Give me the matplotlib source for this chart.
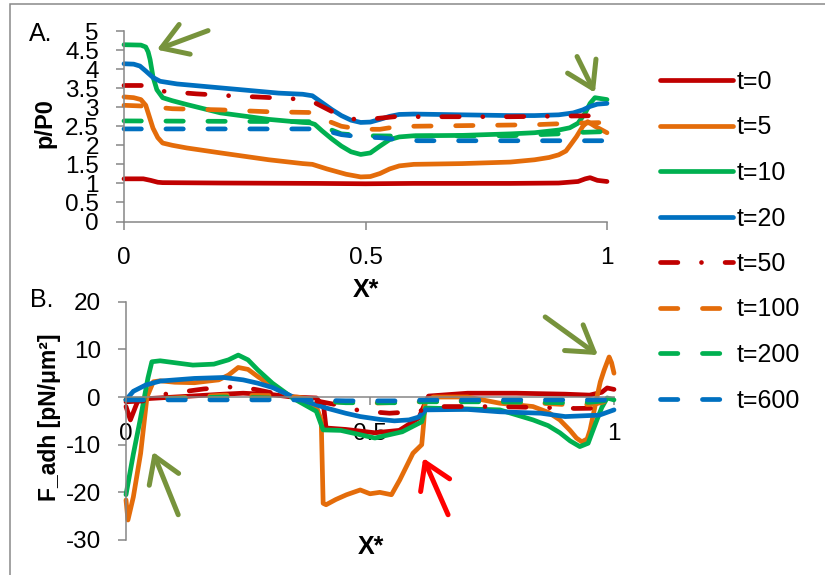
import matplotlib
matplotlib.use('Agg')
import matplotlib.pyplot as plt
from matplotlib.patches import Rectangle

plt.rcParams['font.family'] = ['Liberation Sans', 'DejaVu Sans']
plt.rcParams['lines.scale_dashes'] = False
plt.rcParams['axes.unicode_minus'] = False

# ---- data: panel A (p/P0 vs X*) ----
a_t0_x = [0, 0.04, 0.055, 0.07, 0.08, 0.2, 0.4, 0.5, 0.6, 0.8, 0.9, 0.94, 0.955, 0.965, 0.98, 1.0]
a_t0_y = [1.12, 1.12, 1.08, 1.03, 1.02, 1.01, 1.0, 0.99, 1.0, 1.0, 1.01, 1.05, 1.12, 1.15, 1.08, 1.05]

a_t5_x = [0, 0.02, 0.035, 0.045, 0.05, 0.06, 0.07, 0.08, 0.1, 0.13, 0.2, 0.3, 0.37, 0.39, 0.42, 0.46,
          0.49, 0.51, 0.53, 0.55, 0.57, 0.6, 0.7, 0.8, 0.85, 0.88, 0.9, 0.915, 0.925, 0.937, 0.95,
          0.96, 0.975, 1.0]
a_t5_y = [3.27, 3.25, 3.2, 3.05, 2.85, 2.45, 2.2, 2.06, 2.0, 1.93, 1.8, 1.62, 1.52, 1.5, 1.38, 1.24,
          1.17, 1.18, 1.26, 1.38, 1.46, 1.5, 1.52, 1.56, 1.62, 1.68, 1.75, 1.85, 2.02, 2.23, 2.5,
          2.62, 2.5, 2.33]

a_t10_x = [0, 0.035, 0.045, 0.05, 0.054, 0.06, 0.068, 0.08, 0.1, 0.13, 0.2, 0.3, 0.37, 0.385, 0.395,
           0.41, 0.43, 0.45, 0.47, 0.49, 0.51, 0.53, 0.55, 0.57, 0.6, 0.7, 0.8, 0.85, 0.9, 0.923,
           0.94, 0.955, 0.965, 0.975, 1.0]
a_t10_y = [4.64, 4.63, 4.58, 4.45, 4.25, 3.8, 3.46, 3.25, 3.17, 3.07, 2.85, 2.68, 2.6, 2.59, 2.55,
           2.38, 2.17, 1.98, 1.83, 1.76, 1.8, 1.98, 2.15, 2.22, 2.25, 2.26, 2.3, 2.33, 2.4, 2.46,
           2.58, 2.85, 3.1, 3.25, 3.2]

a_t20_x = [0, 0.02, 0.033, 0.045, 0.06, 0.075, 0.11, 0.18, 0.25, 0.32, 0.37, 0.39, 0.41, 0.43, 0.45,
           0.47, 0.49, 0.51, 0.53, 0.55, 0.57, 0.6, 0.7, 0.8, 0.85, 0.9, 0.93, 0.95, 0.965, 0.98, 1.0]
a_t20_y = [4.14, 4.13, 4.08, 3.95, 3.78, 3.68, 3.61, 3.53, 3.45, 3.37, 3.34, 3.3, 3.12, 2.94, 2.78,
           2.66, 2.6, 2.61, 2.68, 2.76, 2.81, 2.82, 2.8, 2.78, 2.78, 2.8, 2.85, 2.93, 3.02, 3.08, 3.1]

a_t50_x = [0, 0.04, 0.06, 0.08, 0.15, 0.22, 0.29, 0.35, 0.39, 0.43, 0.48, 0.52, 0.56, 0.6, 0.8, 1.0]
a_t50_y = [3.57, 3.57, 3.5, 3.42, 3.35, 3.3, 3.26, 3.22, 3.15, 2.89, 2.67, 2.7, 2.75, 2.75, 2.75, 2.78]

a_t100_x = [0, 0.04, 0.1, 0.2, 0.3, 0.39, 0.41, 0.45, 0.49, 0.53, 0.57, 0.6, 0.85, 0.93, 1.0]
a_t100_y = [3.05, 3.03, 2.96, 2.93, 2.88, 2.86, 2.7, 2.5, 2.42, 2.42, 2.5, 2.5, 2.54, 2.58, 2.6]

a_t200_x = [0, 0.39, 0.42, 0.45, 0.5, 0.6, 0.8, 0.9, 0.95, 1.0]
a_t200_y = [2.64, 2.62, 2.45, 2.3, 2.25, 2.24, 2.25, 2.3, 2.34, 2.36]

a_t600_x = [0, 0.39, 0.41, 0.45, 0.49, 0.53, 0.58, 0.61, 0.8, 1.0]
a_t600_y = [2.43, 2.43, 2.41, 2.28, 2.22, 2.2, 2.13, 2.12, 2.12, 2.12]

# ---- data: panel B (F_adh vs X*) ----
b_t0_x = [0, 0.009, 0.025, 0.05, 0.1, 0.2, 0.24, 0.3, 0.34, 0.39, 0.405, 0.41, 0.45, 0.51, 0.56,
          0.6, 0.612, 0.62, 0.7, 0.8, 0.9, 0.95, 0.975, 0.986, 1.0]
b_t0_y = [-2, -4.8, -0.6, -0.3, 0, 0.6, 0.8, 0.5, 0, -0.2, -2, -6.5, -6.8, -7.5, -7,
          -4.4, -1.5, 0.2, 0.8, 0.8, 0.6, 0.4, 1.0, 1.9, 1.6]

b_t5_x = [0, 0.004, 0.015, 0.03, 0.043, 0.056, 0.07, 0.1, 0.14, 0.19, 0.21, 0.23, 0.25, 0.27, 0.3,
          0.34, 0.37, 0.39, 0.4, 0.404, 0.41, 0.43, 0.452, 0.48, 0.5, 0.52, 0.544, 0.561, 0.575,
          0.588, 0.606, 0.61, 0.613, 0.63, 0.7, 0.766, 0.834, 0.865, 0.889, 0.91, 0.923, 0.934,
          0.945, 0.951, 0.958, 0.965, 0.972, 0.98, 0.99, 0.995, 1.0]
b_t5_y = [-21.6, -25.8, -21, -11.8, 0, 3.2, 3.4, 3.1, 3.0, 3.6, 4.6, 6.2, 5.8, 4.3, 2.2,
          0, -0.8, -2, -4.8, -22.3, -22.6, -21.5, -20.5, -19.5, -20.3, -20, -20.5, -17.4, -14.5,
          -11.8, -10, -5.5, -1, 0, 0, -1.3, -2, -3.2, -4.8, -7, -8.6, -9.4,
          -8.8, -6.9, -3.5, 0, 3.2, 5.7, 8.4, 7.2, 5.0]

b_t10_x = [0, 0.015, 0.029, 0.045, 0.053, 0.07, 0.137, 0.18, 0.21, 0.23, 0.25, 0.27, 0.3, 0.343,
           0.39, 0.404, 0.44, 0.51, 0.566, 0.606, 0.614, 0.65, 0.7, 0.766, 0.834, 0.865, 0.889,
           0.91, 0.93, 0.947, 0.955, 0.965, 0.975, 0.986, 1.0]
b_t10_y = [-20.5, -12, -4.8, 4, 7.4, 7.6, 6.7, 6.9, 7.8, 8.8, 7.8, 5.7, 2.9, -0.3,
           -3, -6.9, -7, -8.6, -7.3, -5.2, -2.3, -2.4, -2.5, -2.7, -4.8, -6, -7.5,
           -9.2, -10.4, -9.7, -7.5, -4.8, -2.2, -0.2, -0.6]

b_t20_x = [0, 0.015, 0.04, 0.07, 0.14, 0.2, 0.24, 0.27, 0.3, 0.343, 0.38, 0.41, 0.45, 0.48, 0.52,
           0.55, 0.58, 0.6, 0.614, 0.7, 0.766, 0.85, 0.9, 0.97, 1.0]
b_t20_y = [-0.6, 1.2, 2.5, 3.35, 3.9, 4.1, 3.6, 2.9, 2.0, 0, -1.3, -2.3, -3.4, -4.1, -4.7,
           -5, -4.8, -4.2, -2.7, -2.6, -3.1, -3.4, -4.1, -3.8, -2.7]

b_t50_x = [0, 0.04, 0.08, 0.16, 0.23, 0.27, 0.34, 0.4, 0.44, 0.48, 0.54, 0.6, 0.63, 0.75, 0.85,
           0.9, 0.92, 1.0]
b_t50_y = [-1, -0.8, 0.6, 1.7, 2.2, 1.5, 0, -1.0, -1.8, -2.9, -3.4, -3.0, -2, -2, -2.2,
           -2.3, -2.4, -2.3]

b_t100_x = [0, 0.1, 0.2, 0.3, 0.35, 0.42, 0.5, 0.6, 0.7, 0.85, 0.92, 0.96, 1.0]
b_t100_y = [-0.5, -0.2, 0.4, 0.3, 0, -1.0, -1.3, -1.0, -0.8, -1.3, -1.7, -1.5, -0.5]

b_t200_x = [0, 0.1, 0.2, 0.3, 0.35, 0.45, 0.55, 0.6, 0.75, 0.9, 0.95, 1.0]
b_t200_y = [-0.6, -0.3, 0, -0.2, -0.5, -1.2, -1.2, -1.0, -1.0, -1.2, -1.1, -0.6]

b_t600_x = [0, 0.35, 0.45, 0.55, 0.62, 1.0]
b_t600_y = [-0.6, -0.6, -0.8, -0.8, -0.6, -0.6]

labels = ['t=0', 't=5', 't=10', 't=20', 't=50', 't=100', 't=200', 't=600']
colors = ['#C00000', '#E46C0A', '#00B050', '#0070C0', '#C00000', '#E46C0A', '#00B050', '#0070C0']

a_series = [(a_t0_x, a_t0_y), (a_t5_x, a_t5_y), (a_t10_x, a_t10_y), (a_t20_x, a_t20_y),
            (a_t50_x, a_t50_y), (a_t100_x, a_t100_y), (a_t200_x, a_t200_y), (a_t600_x, a_t600_y)]
b_series = [(b_t0_x, b_t0_y), (b_t5_x, b_t5_y), (b_t10_x, b_t10_y), (b_t20_x, b_t20_y),
            (b_t50_x, b_t50_y), (b_t100_x, b_t100_y), (b_t200_x, b_t200_y), (b_t600_x, b_t600_y)]

LW = 3.4
dash_long = (12.5, 17.7)
dash_dot = (12.5, 17.0, 0.01, 17.0)
styles = [None, None, None, None, dash_dot, dash_long, dash_long, dash_long]

GRAY = '#868686'
FS = 17.5

W, H = 825, 575
fig = plt.figure(figsize=(W / 100, H / 100), dpi=100)

# outer frame
fig.add_artist(Rectangle((10 / W, -0.1), 1.2, 1 - 4 / H + 0.1, transform=fig.transFigure,
                         fill=False, ec='#898989', lw=1.1))

axA = fig.add_axes([124 / W, 1 - 221.5 / H, 483 / W, 190.5 / H])
axB = fig.add_axes([126 / W, 1 - 540 / H, 488 / W, 238.3 / H])


def draw(ax, series):
    handles = []
    for (xs, ys), lab, col, ds in zip(series, labels, colors, styles):
        ln, = ax.plot(xs, ys, color=col, lw=LW, label=lab, solid_capstyle='round',
                      dash_capstyle='round', solid_joinstyle='round', clip_on=False)
        if ds is not None:
            ln.set_dashes(ds)
        handles.append(ln)
    return handles


def style(ax):
    for s in ['top', 'right']:
        ax.spines[s].set_visible(False)
    for s in ['left', 'bottom']:
        ax.spines[s].set_color(GRAY)
        ax.spines[s].set_linewidth(1.1)
    ax.set_xlim(0, 1)
    ax.set_xticks([0, 0.5, 1])
    ax.set_xticklabels(['0', '0.5', '1'])
    ax.tick_params(axis='both', direction='out', length=6, width=1.1, color=GRAY,
                   labelsize=FS, labelcolor='black')
    ax.tick_params(axis='x', pad=12.5)
    ax.tick_params(axis='y', pad=12)
    ax.patch.set_visible(False)


handles = draw(axA, a_series)
style(axA)
axA.set_ylim(0, 5)
axA.set_yticks([0, 0.5, 1, 1.5, 2, 2.5, 3, 3.5, 4, 4.5, 5])
axA.set_yticklabels(['0', '0.5', '1', '1.5', '2', '2.5', '3', '3.5', '4', '4.5', '5'])

draw(axB, b_series)
style(axB)
axB.set_ylim(-30, 20)
axB.set_yticks([-30, -20, -10, 0, 10, 20])
axB.spines['bottom'].set_position(('data', 0))

# labels
fig.text(29 / W, 1 - 34 / H, 'A.', fontsize=18, ha='left', va='center')
fig.text(30 / W, 1 - 300 / H, 'B.', fontsize=18, ha='left', va='center')
fig.text(45 / W, 1 - 123 / H, 'p/P0', fontsize=17, fontweight='bold', rotation=90,
         ha='center', va='center')
fig.text(50 / W, 1 - 417 / H, 'F_adh [pN/μm²]', fontsize=16.5, fontweight='bold', rotation=90,
         ha='center', va='center')
fig.text(366 / W, 1 - 290 / H, 'X*', fontsize=18, fontweight='bold', ha='center', va='center')
fig.text(371 / W, 1 - 547 / H, 'X*', fontsize=18, fontweight='bold', ha='center', va='center')

# arrows
olive = '#77933C'
arr = dict(arrowstyle='->,head_length=0.6,head_width=0.38', lw=3.6, shrinkA=0, shrinkB=0,
           mutation_scale=30)
axA.annotate('', xy=(0.068, 4.51), xytext=(0.174, 5.01), annotation_clip=False,
             arrowprops=dict(arr, color=olive))
axA.annotate('', xy=(0.975, 3.38), xytext=(0.938, 4.33), annotation_clip=False,
             arrowprops=dict(arr, color=olive))
axB.annotate('', xy=(0.055, -11.5), xytext=(0.107, -24.7), annotation_clip=False,
             arrowprops=dict(arr, color=olive))
axB.annotate('', xy=(0.967, 8.8), xytext=(0.859, 16.8), annotation_clip=False,
             arrowprops=dict(arr, color=olive))
axB.annotate('', xy=(0.609, -12.8), xytext=(0.66, -24.7), annotation_clip=False,
             arrowprops=dict(arr, color='#FF0000'))

fig.legend(handles=handles, loc='upper left', bbox_to_anchor=(660 / W, 1 - 70 / H),
           frameon=False, fontsize=18, handlelength=2.92, handletextpad=0.16,
           labelspacing=0.86, borderpad=0, borderaxespad=0)

fig.savefig('out.png', dpi=100)
